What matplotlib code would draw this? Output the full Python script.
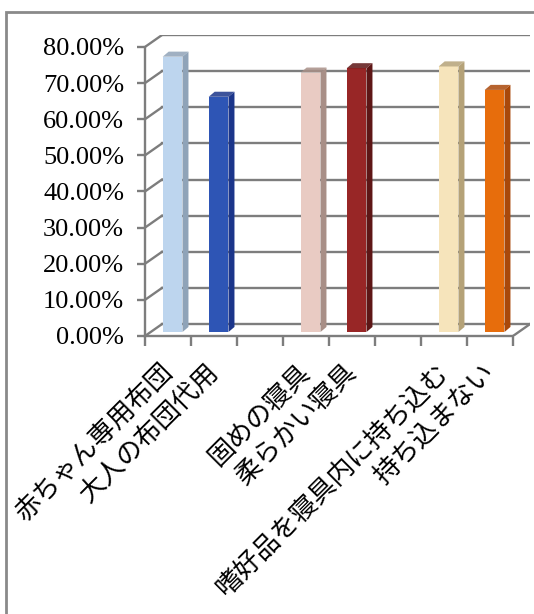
import numpy as np
import matplotlib.pyplot as plt
from matplotlib.patches import Polygon, Rectangle

# data
categories = ['赤ちゃん専用布団', '大人の布団代用', '', '固めの寝具', '柔らかい寝具', '',
              '嗜好品を寝具内に持ち込む', '持ち込まない']
values = [76.2, 65.1, None, 71.8, 73.0, None, 73.5, 67.0]
front_colors = ['#bdd5ee', '#2e55b5', None, '#e9cbc3', '#982626', None, '#f6e4bb', '#e76d0c']
side_colors = ['#8fa3b8', '#1b358a', None, '#a88f87', '#5e1616', None, '#b5a278', '#a9480a']
yticks = [0, 10, 20, 30, 40, 50, 60, 70, 80]

grid_c = '#7d7d7d'
n = len(categories)
dx, dy = 0.37, 3.3      # depth of the back wall
sx, sy = 0.10, 1.1      # bar front face shift (bars sit mid-depth)
bdx, bdy = 0.13, 1.4    # bar depth
w = 0.43

fig = plt.figure(figsize=(5.34, 6.14), dpi=100)
fig.patches.append(Rectangle((6 / 534, -0.1), 1.2, 1 - 12 / 614 + 0.1, transform=fig.transFigure,
                             fill=False, edgecolor='#8a8a8a', lw=2))
ax = fig.add_axes([145 / 534, 1 - 336 / 614, (530 - 145) / 534, (336 - 35) / 614])
ax.set_xlim(0, n + dx)
ax.set_ylim(0, 80 + dy)
ax.patch.set_alpha(0)

# back wall gridlines and side diagonals
for v in yticks:
    ax.plot([dx, n + dx], [v + dy, v + dy], color=grid_c, lw=1.7, zorder=1)
    ax.plot([0, dx], [v, v + dy], color=grid_c, lw=1.7, zorder=1)
ax.plot([n, n + dx], [0, dy], color=grid_c, lw=1.7, zorder=1)

# bars
x = np.arange(n) + 0.5
for i in range(n):
    v = values[i]
    if v is None:
        continue
    xl = x[i] + sx - w / 2
    xr = x[i] + sx + w / 2
    top = sy + v
    ax.bar(x[i] + sx, v, bottom=sy, width=w, color=front_colors[i], zorder=3)
    ax.add_patch(Polygon([(xr, sy), (xr + bdx, sy + bdy), (xr + bdx, top + bdy), (xr, top)],
                         closed=True, facecolor=side_colors[i], edgecolor='none', zorder=3))
    ax.add_patch(Polygon([(xl, top), (xl + bdx, top + bdy), (xr + bdx, top + bdy), (xr, top)],
                         closed=True, facecolor=side_colors[i], edgecolor='none', alpha=0.85, zorder=3))

# axes
for s in ['top', 'right']:
    ax.spines[s].set_visible(False)
for s in ['left', 'bottom']:
    ax.spines[s].set_color(grid_c)
    ax.spines[s].set_linewidth(1.7)
ax.spines['left'].set_bounds(0, 80)
ax.spines['bottom'].set_bounds(0, n)

ax.set_yticks(yticks)
ax.set_yticklabels(['%.2f%%' % v for v in yticks], fontsize=19, family='Liberation Serif')
ax.tick_params(axis='y', length=6, width=1.7, color=grid_c, pad=9)

ax.set_xticks(np.arange(n + 1), minor=True)
ax.tick_params(axis='x', which='minor', length=7, width=1.7, color=grid_c)
ax.set_xticks(x)
ax.set_xticklabels(categories, fontsize=19, family=['Noto Sans CJK JP', 'DejaVu Sans'])
ax.tick_params(axis='x', which='major', length=0, pad=23)
plt.setp(ax.get_xticklabels(), rotation=45, ha='right', va='center', rotation_mode='anchor')

fig.savefig('out.png', dpi=100)
